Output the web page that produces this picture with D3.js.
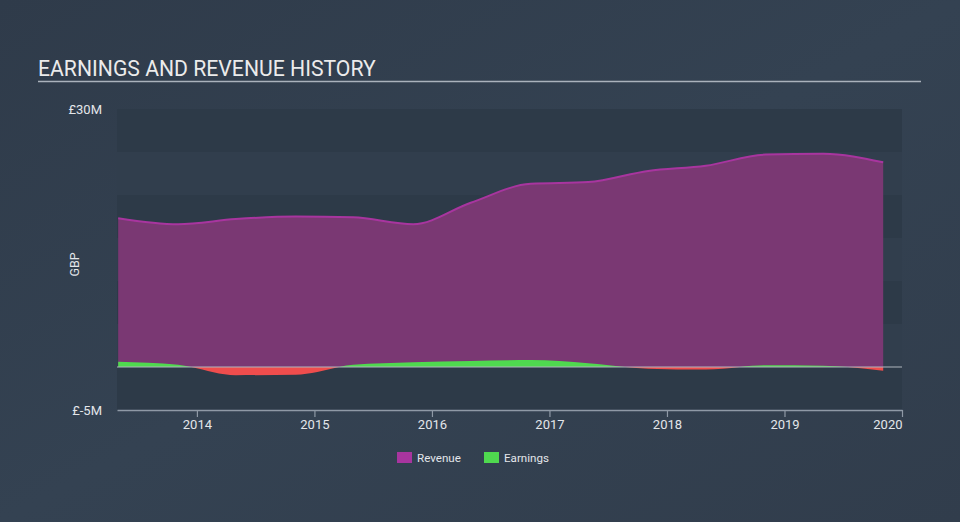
<!DOCTYPE html>
<html>
<head>
<meta charset="utf-8">
<script src="https://cdn.jsdelivr.net/npm/d3@7"></script>
<style>
  html, body { margin: 0; padding: 0; background: #333f4e; }
  svg { display: block; font-family: Roboto, "Open Sans", sans-serif; }
</style>
</head>
<body>
<svg id="chart" width="960" height="522"></svg>
<script>
const dates = [2013.33, 2013.84, 2014.33, 2014.84, 2015.33, 2015.84, 2016.33, 2016.84, 2017.33, 2017.84, 2018.33, 2018.84, 2019.33, 2019.84];
const revenue = [17.3, 16.6, 17.2, 17.5, 17.4, 16.6, 19.1, 21.3, 21.5, 22.8, 23.4, 24.7, 24.8, 23.8];
const earnings = [0.6, 0.25, -0.95, -0.9, 0.25, 0.55, 0.7, 0.8, 0.45, -0.2, -0.3, 0.2, 0.15, -0.45];
const yearTicks = [2014, 2015, 2016, 2017, 2018, 2019, 2020];
const yTickValues = [-5, 30];
const yTickLabels = ["£-5M", "£30M"];
const bandEdges = [30, 25, 20, 15, 10, 5, 0, -5];

(function () {
const svg = d3.select("#chart");
const W = 960, H = 522;
const pL = 117, pR = 902, pT = 109, pB = 410;

const x = d3.scaleLinear().domain([2013.32, 2020]).range([pL, pR]);
const y = d3.scaleLinear().domain([-5, 30]).range([pB, pT]);

const defs = svg.append("defs");
const bg = defs.append("linearGradient").attr("id", "bg").attr("x1", 0).attr("y1", 0).attr("x2", 1).attr("y2", 1);
bg.append("stop").attr("offset", "0%").attr("stop-color", "#2f3b4a");
bg.append("stop").attr("offset", "50%").attr("stop-color", "#344252");
bg.append("stop").attr("offset", "100%").attr("stop-color", "#313d4c");
svg.append("rect").attr("width", W).attr("height", H).attr("fill", "url(#bg)");

svg.append("text").attr("x", 38).attr("y", 76).attr("fill", "#ebebeb")
  .attr("font-size", 21.2).text("EARNINGS AND REVENUE HISTORY");
svg.append("line").attr("x1", 38).attr("x2", 921).attr("y1", 81.5).attr("y2", 81.5)
  .attr("stroke", "#aab2bc").attr("stroke-width", 1.5);

for (let i = 0; i < bandEdges.length - 1; i++) {
  svg.append("rect")
    .attr("x", pL).attr("width", pR - pL)
    .attr("y", y(bandEdges[i])).attr("height", y(bandEdges[i + 1]) - y(bandEdges[i]))
    .attr("fill", i % 2 === 0 ? "#2d3a48" : "#313e4d");
}

defs.append("clipPath").attr("id", "pos").append("rect")
  .attr("x", pL).attr("y", pT).attr("width", pR - pL).attr("height", y(0) - pT);
defs.append("clipPath").attr("id", "neg").append("rect")
  .attr("x", pL).attr("y", y(0)).attr("width", pR - pL).attr("height", pB - y(0));

const revData = dates.map((d, i) => ({ d, v: revenue[i] }));
const earnData = dates.map((d, i) => ({ d, v: earnings[i] }));

const curve = d3.curveMonotoneX;
const area = d3.area().x(p => x(p.d)).y0(y(0)).y1(p => y(p.v)).curve(curve);
const line = d3.line().x(p => x(p.d)).y(p => y(p.v)).curve(curve);

svg.append("path").datum(revData).attr("d", area).attr("fill", "#7a3873");
svg.append("path").datum(revData).attr("d", line).attr("fill", "none")
  .attr("stroke", "#a8359f").attr("stroke-width", 2);

svg.append("path").datum(earnData).attr("d", area).attr("fill", "#4fd94f").attr("clip-path", "url(#pos)");
svg.append("path").datum(earnData).attr("d", area).attr("fill", "#ef4d4d").attr("clip-path", "url(#neg)");

svg.append("line").attr("x1", pL).attr("x2", pR).attr("y1", y(0)).attr("y2", y(0))
  .attr("stroke", "#b0b6bd").attr("stroke-width", 1.2);

const xAxis = d3.axisBottom(x).tickValues(yearTicks).tickFormat(d3.format("d")).tickSize(7).tickSizeOuter(0);
const gx = svg.append("g").attr("transform", `translate(0,${pB})`).call(xAxis);
gx.select(".domain").attr("stroke", "#8f99a6").attr("stroke-width", 1.5);
gx.selectAll(".tick line").attr("stroke", "#8f99a6").attr("stroke-width", 1.2);
gx.selectAll(".tick text").attr("fill", "#e3e6ea").attr("font-size", 13).attr("dy", "0.7em")
  .attr("font-family", "Roboto, sans-serif")
  .attr("text-anchor", d => d === 2020 ? "end" : "middle");

yTickValues.forEach((v, i) => {
  svg.append("text").attr("x", 102).attr("y", y(v)).attr("dy", "0.35em")
    .attr("text-anchor", "end").attr("fill", "#e3e6ea").attr("font-size", 13).text(yTickLabels[i]);
});
svg.append("text").attr("transform", `translate(79,${(pT + pB) / 2 + 5}) rotate(-90)`)
  .attr("text-anchor", "middle").attr("fill", "#e3e6ea").attr("font-size", 12.5).text("GBP");

const legend = [{ name: "Revenue", color: "#a8359f", x: 397 }, { name: "Earnings", color: "#4fd94f", x: 484 }];
legend.forEach(l => {
  svg.append("rect").attr("x", l.x).attr("y", 452).attr("width", 15).attr("height", 11).attr("fill", l.color);
  svg.append("text").attr("x", l.x + 20).attr("y", 458).attr("dy", "0.35em")
    .attr("fill", "#e3e6ea").attr("font-size", 11.6).text(l.name);
});
})();
</script>
</body>
</html>
